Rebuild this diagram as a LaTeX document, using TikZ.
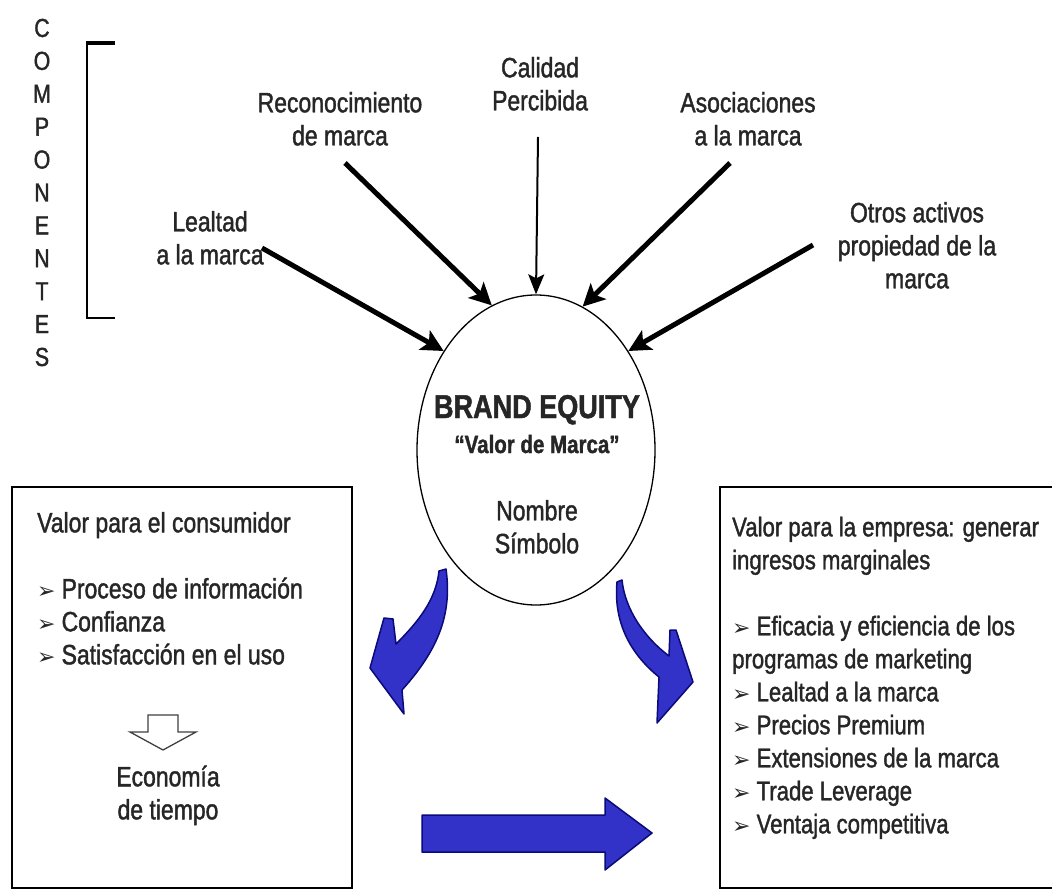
\documentclass[tikz,border=0pt]{standalone}
\usepackage{fontspec}
\setmainfont[FakeStretch=0.82,FakeBold=1.4]{Liberation Sans}
\newfontfamily\dejavu{DejaVu Sans}
\usetikzlibrary{shapes.geometric,arrows.meta}
\definecolor{txt}{gray}{0.15}
\definecolor{bluefill}{RGB}{50,50,200}
\definecolor{blueedge}{RGB}{10,10,120}
\newcommand\bul{{\dejavu\fontsize{22}{22}\selectfont ➢}\hspace{6pt}}
\tikzset{
  lbl/.style={font=\fontsize{28}{33}\selectfont, text=txt, inner sep=0pt, align=center, anchor=north},
  boxtext/.style={font=\fontsize{28}{33}\selectfont, text=txt, inner sep=0pt, align=left, anchor=north west},
  rboxtext/.style={font=\fontsize{27}{33}\selectfont, text=txt, inner sep=0pt, align=left, anchor=north west},
  letter/.style={font=\fontsize{26}{26}\selectfont, text=txt, inner sep=0pt},
  bigarrow/.style={line width=5pt, -{Stealth[length=22pt,width=22pt,inset=5pt]}},
  thinarrow/.style={line width=2pt, -{Stealth[length=20pt,width=16pt,inset=4pt]}},
  blueshape/.style={fill=bluefill, draw=blueedge, line width=1.5pt, line join=round},
  frame/.style={draw=black, line width=1.6pt}
}
\begin{document}
\begin{tikzpicture}[x=1pt,y=-1pt]
\useasboundingbox (0,0) rectangle (1052,890);
\fill[white] (0,0) rectangle (1052,890);

% COMPONENTES vertical
\foreach \l [count=\i] in {C,O,M,P,O,N,E,N,T,E,S}
  \node[letter] (c\i) at (42,{28+32.9*(\i-1)}) {\l};

% bracket
\draw[line width=2.5pt] (115,318) -- (87,318) -- (87,43);
\draw[line width=4pt] (85.75,43) -- (115,43);

% ellipse
\node[draw, ellipse, line width=1.3pt, minimum width=238pt, minimum height=310pt, inner sep=0pt] (be) at (536,450) {};

% top labels
\node[lbl] (leal) at (210,208) {\strut Lealtad\\a la marca};
\node[lbl] (reco) at (340,89) {\strut Reconocimiento\\de marca};
\node[lbl] (cali) at (540,54) {\strut Calidad\\Percibida};
\node[lbl] (asoc) at (748,89) {\strut Asociaciones\\a la marca};
\node[lbl] (otro) at (917,199) {\strut Otros activos\\propiedad de la\\marca};

% arrow start points
\coordinate (sL) at (262,248);
\coordinate (sR) at (345,163);
\coordinate (sC) at (538,137);
\coordinate (sA) at (730,163);
\coordinate (sO) at (813,245);

\draw[bigarrow] (sL) -- (be.133);
\draw[bigarrow] (sR) -- (be.107.5);
\draw[thinarrow] (sC) -- (be.north);
\draw[bigarrow] (sA) -- (be.72.5);
\draw[bigarrow] (sO) -- (be.47);

% ellipse text
\node[font=\bfseries\fontsize{33}{33}\selectfont, text=txt, anchor=base, inner sep=0pt] (bet) at (537,418) {BRAND EQUITY};
\node[font=\bfseries\fontsize{25}{25}\selectfont, text=txt, anchor=base, inner sep=0pt] (vdm) at (537,453) {“Valor de Marca”};
\node[lbl] (nom) at (537,497) {\strut Nombre\\Símbolo};

% boxes
\draw[frame] (12,487) rectangle (352,888);
\draw[frame] (720,487) rectangle (1065,888);

\node[boxtext] (lefttxt) at (37,509) {\strut Valor para el consumidor\\[33pt]\bul Proceso de información\\\bul Confianza\\\bul Satisfacción en el uso};

\node[rboxtext] (righttxt) at (732,513) {\strut Valor para la empresa: generar\\ingresos marginales\\[33pt]\bul Eficacia y eficiencia de los\\programas de marketing\\\bul Lealtad a la marca\\\bul Precios Premium\\\bul Extensiones de la marca\\\bul Trade Leverage\\\bul Ventaja competitiva};

% hollow down arrow
\draw[line width=1.3pt, draw=black!75, fill=white, line join=miter] (148,715) -- (178,715) -- (178,732) -- (196,732) -- (163,750) -- (130,732) -- (148,732) -- cycle;
\node[lbl] (eco) at (168,763) {\strut Economía\\de tiempo};

% blue curved arrows
\path[blueshape] (439,571) -- (446,569) .. controls (452,612) and (440,648) .. (402,690) -- (404,714) -- (370,668) -- (384,618) -- (393,619) -- (396,644) .. controls (418,622) and (436,600) .. cycle;
\path[blueshape] (617,582) .. controls (613,625) and (633,656) .. (659,677) -- (657,723) -- (693,682) -- (676,630) -- (670,630) -- (669,656) .. controls (645,638) and (625,610) .. (622,580) -- cycle;

% blue straight arrow
\path[blueshape] (422,815) -- (605,815) -- (605,798) -- (652,833) -- (605,870) -- (605,852) -- (422,852) -- cycle;
\end{tikzpicture}
\end{document}
